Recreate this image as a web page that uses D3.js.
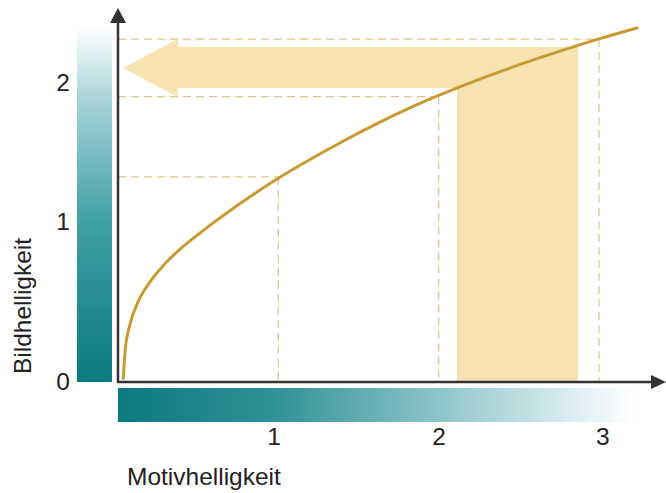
<!DOCTYPE html>
<html>
<head>
	<meta charset="utf-8">
	<title>Bildhelligkeit / Motivhelligkeit</title>
	<script src="https://d3js.org/d3.v7.min.js"></script>
	<style>
		body { margin: 0; background: #fff; }
		text { font-family: "Liberation Sans", Arial, sans-serif; fill: #222; }
	</style>
</head>
<body>
	<div class="chart"></div>

	<script type="text/javascript">
		// curve points (Motivhelligkeit -> Bildhelligkeit)
		const curveX = [0.033, 0.045, 0.075, 0.13, 0.2, 0.3, 0.4, 0.5, 0.6, 0.7, 0.8, 0.9, 1.0, 1.2, 1.4, 1.6, 1.8, 2.0, 2.2, 2.4, 2.6, 2.8, 3.0, 3.237]
		const curveY = [0.023, 0.2, 0.36, 0.51, 0.625, 0.745, 0.84, 0.92, 0.997, 1.07, 1.14, 1.207, 1.271, 1.389, 1.5, 1.604, 1.7, 1.787, 1.867, 1.942, 2.012, 2.078, 2.14, 2.208]

		// dashed guide lines
		const guideX = [1, 2, 3]
		const guideY = [1.28, 1.78, 2.139]

		// big arrow: vertical band + shaft + head
		const bandX = [2.114, 2.869]
		const shaftY = [1.834, 2.089]
		const headX = [0.031, 0.374]
		const headY = [1.778, 2.139]

		// tick labels
		const xTickValues = [0.97, 2, 3.02]
		const xTickLabels = ['1', '2', '3']
		const yTickValues = [0, 1, 1.87]
		const yTickLabels = ['0', '1', '2']

		const xLabel = 'Motivhelligkeit'
		const yLabel = 'Bildhelligkeit'

		const width = 666
		const height = 493

		const svg = d3.select('.chart').append('svg')
			.attr('width', width)
			.attr('height', height)

		const x = d3.scaleLinear([0, 3], [118, 599])
		const y = d3.scaleLinear([0, 1], [382, 221.67])

		const teal = '#0a7a80'
		const defs = svg.append('defs')

		const vGrad = defs.append('linearGradient')
			.attr('id', 'vgrad')
			.attr('x1', 0).attr('y1', 1).attr('x2', 0).attr('y2', 0)
		vGrad.selectAll('stop')
			.data([[0, teal], [0.45, '#3f9fa6'], [0.8, '#a9d4d9'], [1, '#ffffff']])
			.join('stop')
			.attr('offset', d => d[0])
			.attr('stop-color', d => d[1])

		const hGrad = defs.append('linearGradient')
			.attr('id', 'hgrad')
			.attr('x1', 0).attr('y1', 0).attr('x2', 1).attr('y2', 0)
		hGrad.selectAll('stop')
			.data([[0, teal], [0.3, '#2f9197'], [0.62, '#8cc5ca'], [0.88, '#dcedf0'], [1, '#ffffff']])
			.join('stop')
			.attr('offset', d => d[0])
			.attr('stop-color', d => d[1])

		// gradient bars next to the axes
		svg.append('rect')
			.attr('x', 77)
			.attr('y', y(2.21))
			.attr('width', 35)
			.attr('height', y(0) - y(2.21))
			.attr('fill', 'url(#vgrad)')

		svg.append('rect')
			.attr('x', x(0))
			.attr('y', 388)
			.attr('width', x(3.22) - x(0))
			.attr('height', 34)
			.attr('fill', 'url(#hgrad)')

		// big arrow
		const arrow = d3.path()
		arrow.moveTo(x(headX[0]), y((headY[0] + headY[1]) / 2))
		arrow.lineTo(x(headX[1]), y(headY[1]))
		arrow.lineTo(x(headX[1]), y(shaftY[1]))
		arrow.lineTo(x(bandX[1]), y(shaftY[1]))
		arrow.lineTo(x(bandX[1]), y(0))
		arrow.lineTo(x(bandX[0]), y(0))
		arrow.lineTo(x(bandX[0]), y(shaftY[0]))
		arrow.lineTo(x(headX[1]), y(shaftY[0]))
		arrow.lineTo(x(headX[1]), y(headY[0]))
		arrow.closePath()

		svg.append('path')
			.attr('d', arrow.toString())
			.attr('fill', '#f7e2b2')

		// dashed guides
		const guides = svg.append('g')
			.attr('stroke', '#dcc48e')
			.attr('stroke-width', 1.2)
			.attr('stroke-dasharray', '8,5')
			.attr('fill', 'none')

		guides.selectAll('.gh')
			.data(guideX)
			.join('line')
			.attr('x1', x(0))
			.attr('x2', d => x(d))
			.attr('y1', (d, i) => y(guideY[i]))
			.attr('y2', (d, i) => y(guideY[i]))

		guides.selectAll('.gv')
			.data(guideX)
			.join('line')
			.attr('x1', d => x(d))
			.attr('x2', d => x(d))
			.attr('y1', (d, i) => y(guideY[i]))
			.attr('y2', y(0))

		// curve
		const line = d3.line()
			.x(d => x(d[0]))
			.y(d => y(d[1]))
			.curve(d3.curveMonotoneX)

		svg.append('path')
			.datum(d3.zip(curveX, curveY))
			.attr('d', line)
			.attr('fill', 'none')
			.attr('stroke', '#c89a32')
			.attr('stroke-width', 3)
			.attr('stroke-linecap', 'round')

		// axes with arrow heads
		const axisColor = '#333'
		svg.append('path')
			.attr('d', `M${x(0)},22 V${y(0)} H655`)
			.attr('fill', 'none')
			.attr('stroke', axisColor)
			.attr('stroke-width', 2.5)

		svg.append('path')
			.attr('d', `M${x(0)},8 L${x(0) + 8},23 L${x(0) - 8},23 Z`)
			.attr('fill', axisColor)

		svg.append('path')
			.attr('d', `M666,${y(0)} L651,${y(0) - 7} L651,${y(0) + 7} Z`)
			.attr('fill', axisColor)

		// tick labels
		const yAxis = svg.append('g')
			.attr('transform', 'translate(70,0)')
			.call(d3.axisLeft(y)
				.tickValues(yTickValues)
				.tickFormat((d, i) => yTickLabels[i])
				.tickSize(0)
				.tickPadding(0))
		yAxis.select('.domain').remove()
		yAxis.selectAll('text')
			.style('font-size', '24.5px')
			.style('font-family', '"Liberation Sans", Arial, sans-serif')
			.attr('fill', '#222')

		const xAxis = svg.append('g')
			.attr('transform', 'translate(0,428)')
			.call(d3.axisBottom(x)
				.tickValues(xTickValues)
				.tickFormat((d, i) => xTickLabels[i])
				.tickSize(0)
				.tickPadding(0))
		xAxis.select('.domain').remove()
		xAxis.selectAll('text')
			.style('font-size', '24.5px')
			.style('font-family', '"Liberation Sans", Arial, sans-serif')
			.attr('fill', '#222')

		// axis titles
		svg.append('text')
			.attr('x', 127)
			.attr('y', 485)
			.style('font-size', '24.5px')
			.text(xLabel)

		svg.append('text')
			.attr('transform', 'translate(31,306) rotate(-90)')
			.attr('text-anchor', 'middle')
			.style('font-size', '24.5px')
			.text(yLabel)
	</script>
</body>
</html>
